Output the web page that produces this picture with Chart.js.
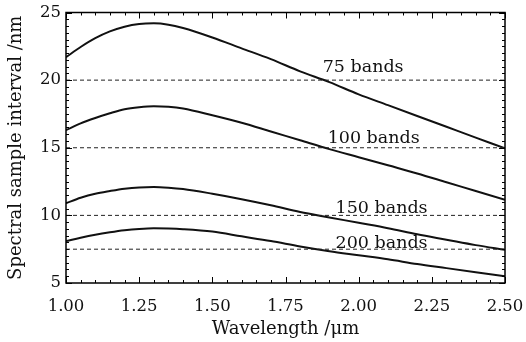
<!DOCTYPE html>
<html>
<head>
<meta charset="utf-8">
<script src="https://cdn.jsdelivr.net/npm/chart.js@4.4.1/dist/chart.umd.min.js"></script>
<style>
  body { margin: 0; background: #fff; }
  #wrap { width: 526px; height: 342px; }
</style>
</head>
<body>
<div id="wrap"><canvas id="myChart" width="526" height="342"></canvas></div>
<script>
const ctx = document.getElementById('myChart').getContext('2d');

// wavelength (um) and spectral sample interval (nm) for each band count
const wavelengths = [1.00, 1.05, 1.10, 1.15, 1.20, 1.25, 1.30, 1.35, 1.40, 1.50, 1.60, 1.70, 1.80, 1.90, 2.00, 2.10, 2.20, 2.30, 2.40, 2.50];
const bands75  = [21.7, 22.45, 23.1, 23.6, 23.95, 24.15, 24.2, 24.1, 23.85, 23.15, 22.35, 21.55, 20.65, 19.85, 18.95, 18.15, 17.35, 16.55, 15.75, 14.95];
const bands100 = [16.3, 16.8, 17.2, 17.55, 17.85, 18.0, 18.07, 18.03, 17.9, 17.4, 16.85, 16.2, 15.55, 14.9, 14.3, 13.7, 13.1, 12.45, 11.8, 11.15];
const bands150 = [10.9, 11.3, 11.6, 11.8, 11.97, 12.07, 12.1, 12.05, 11.95, 11.6, 11.2, 10.75, 10.25, 9.85, 9.45, 9.05, 8.6, 8.2, 7.8, 7.45];
const bands200 = [8.1, 8.35, 8.57, 8.75, 8.9, 9.0, 9.05, 9.03, 8.98, 8.8, 8.45, 8.1, 7.7, 7.35, 7.05, 6.75, 6.4, 6.1, 5.8, 5.5];

// dashed reference levels and their labels
const bandLevels = [20, 15, 10, 7.5];
const bandLabels = ['75 bands', '100 bands', '150 bands', '200 bands'];
const labelX = [1.877, 1.894, 1.921, 1.921];
const labelY = [20.6, 15.33, 10.15, 7.56];

const xTicks = [1.00, 1.25, 1.50, 1.75, 2.00, 2.25, 2.50];
const yTicks = [5, 10, 15, 20, 25];

const FONT = '"DejaVu Serif", serif';

const toPoints = (ys) => wavelengths.map((x, i) => ({ x: x, y: ys[i] }));

const curveSets = [bands75, bands100, bands150, bands200].map(ys => ({
    data: toPoints(ys),
    borderColor: '#111',
    borderWidth: 2,
    pointRadius: 0,
    fill: false,
    cubicInterpolationMode: 'monotone'
}));

const dashSets = bandLevels.map(lvl => ({
    data: [{ x: 1.0, y: lvl }, { x: 2.5, y: lvl }],
    borderColor: '#222',
    borderWidth: 1,
    borderDash: [4, 3],
    pointRadius: 0,
    fill: false
}));

// frame with inward ticks on all four sides
const frameTicks = {
    id: 'frameTicks',
    afterDraw(chart) {
        const c = chart.ctx;
        const xs = chart.scales.x, ys = chart.scales.y;
        const { left, right, top, bottom } = chart.chartArea;
        c.save();
        c.strokeStyle = '#000';
        c.lineWidth = 1.5;
        c.strokeRect(left, top, right - left, bottom - top);
        c.lineWidth = 1;
        c.beginPath();
        for (let i = 0; i <= 30; i++) {
            const v = 1 + i * 0.05;
            const px = Math.round(xs.getPixelForValue(v)) + 0.5;
            const len = i % 5 === 0 ? 6 : 3;
            c.moveTo(px, bottom); c.lineTo(px, bottom - len);
            c.moveTo(px, top); c.lineTo(px, top + len);
        }
        for (let i = 0; i <= 40; i++) {
            const v = 5 + i * 0.5;
            const py = Math.round(ys.getPixelForValue(v)) + 0.5;
            const len = i % 10 === 0 ? 6 : 3;
            c.moveTo(left, py); c.lineTo(left + len, py);
            c.moveTo(right, py); c.lineTo(right - len, py);
        }
        c.stroke();
        c.restore();
    }
};

const bandText = {
    id: 'bandText',
    afterDatasetsDraw(chart) {
        const c = chart.ctx;
        const xs = chart.scales.x, ys = chart.scales.y;
        c.save();
        c.fillStyle = '#111';
        c.font = '17.5px ' + FONT;
        c.textAlign = 'left';
        c.textBaseline = 'alphabetic';
        bandLabels.forEach((t, i) => {
            c.fillText(t, xs.getPixelForValue(labelX[i]), ys.getPixelForValue(labelY[i]));
        });
        c.restore();
    }
};

const myChart = new Chart(ctx, {
    type: 'line',
    data: { datasets: [...dashSets, ...curveSets] },
    options: {
        responsive: false,
        animation: false,
        events: [],
        layout: { padding: { left: 0, top: 12.5, right: 21, bottom: 0 } },
        plugins: { legend: { display: false }, tooltip: { enabled: false } },
        scales: {
            x: {
                type: 'linear',
                min: 1, max: 2.5,
                afterFit: s => { s.height = 59; s.paddingLeft = 0; s.paddingRight = 0; },
                afterBuildTicks: s => { s.ticks = xTicks.map(v => ({ value: v })); },
                grid: { display: false, drawTicks: false },
                border: { display: false },
                ticks: {
                    color: '#111',
                    padding: 14,
                    maxRotation: 0,
                    font: { family: FONT, size: 16.5 },
                    callback: v => Number(v).toFixed(2)
                },
                title: {
                    display: true,
                    text: 'Wavelength /μm',
                    color: '#111',
                    font: { family: FONT, size: 18 },
                    padding: { top: 0, bottom: 2 }
                }
            },
            y: {
                type: 'linear',
                min: 5, max: 25,
                afterFit: s => { s.width = 66; s.paddingTop = 0; s.paddingBottom = 0; },
                afterBuildTicks: s => { s.ticks = yTicks.map(v => ({ value: v })); },
                grid: { display: false, drawTicks: false },
                border: { display: false },
                ticks: {
                    color: '#111',
                    padding: 5,
                    font: { family: FONT, size: 16.5 }
                },
                title: {
                    display: true,
                    text: 'Spectral sample interval /nm',
                    color: '#111',
                    font: { family: FONT, size: 18 },
                    padding: { top: 6, bottom: 0 }
                }
            }
        }
    },
    plugins: [frameTicks, bandText]
});
</script>
</body>
</html>
